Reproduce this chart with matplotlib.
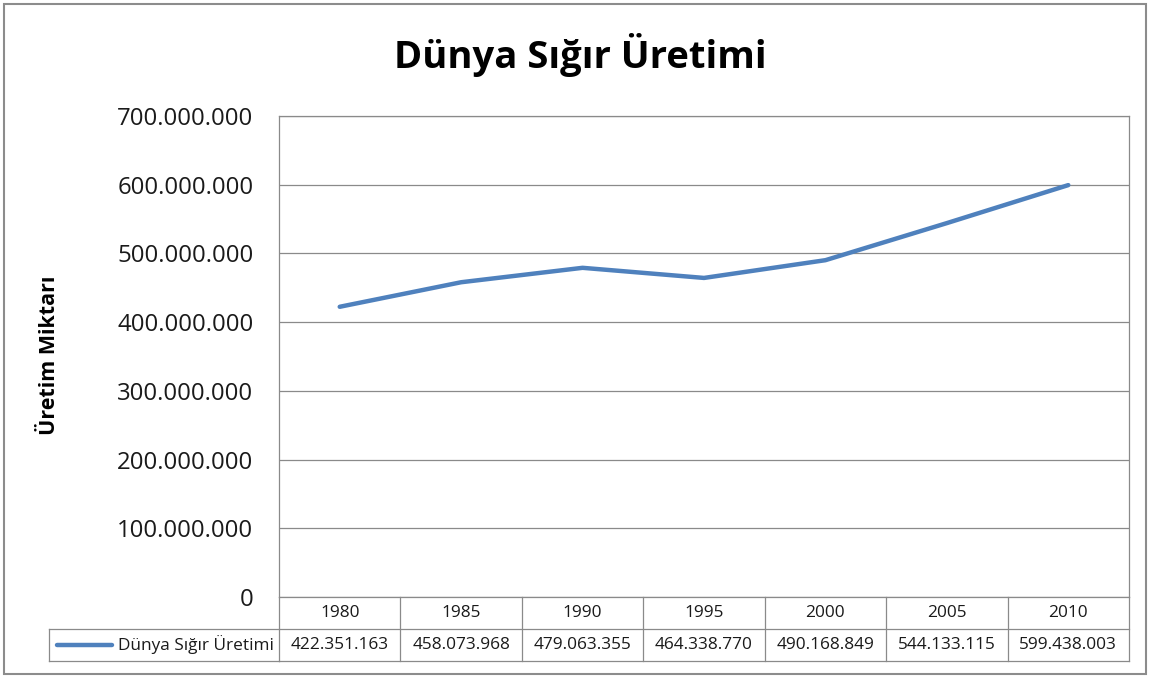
import matplotlib
matplotlib.use("Agg")
import matplotlib.pyplot as plt
from matplotlib.transforms import blended_transform_factory
from matplotlib.lines import Line2D
from matplotlib.patches import Rectangle

years = ["1980", "1985", "1990", "1995", "2000", "2005", "2010"]
values = [422351163, 458073968, 479063355, 464338770, 490168849, 544133115, 599438003]
value_labels = ["422.351.163", "458.073.968", "479.063.355", "464.338.770",
                "490.168.849", "544.133.115", "599.438.003"]
series_name = "Dünya Sığır Üretimi"
title = "Dünya Sığır Üretimi"
ylabel = "Üretim Miktarı"
yticks = [0, 100000000, 200000000, 300000000, 400000000, 500000000, 600000000, 700000000]

FONT = ["Open Sans", "DejaVu Sans"]
plt.rcParams['font.family'] = FONT

W, H = 1150, 678
fig = plt.figure(figsize=(W / 100, H / 100), dpi=100)
fig.patch.set_facecolor("white")

# outer border
fig.patches.append(Rectangle((4 / W, 4 / H), 1142 / W, 670 / H, transform=fig.transFigure,
                             fill=False, edgecolor="#8c8c8c", linewidth=1.5))

left, right, top, bottom = 279, 1129, 116, 597
ax = fig.add_axes([left / W, (H - bottom) / H, (right - left) / W, (bottom - top) / H])
n = len(years)
xs = [i + 0.5 for i in range(n)]
ax.set_xlim(0, n)
ax.set_ylim(0, 700000000)
ax.set_yticks(yticks)
ax.set_yticklabels([f"{v:,}".replace(",", ".") for v in yticks], fontsize=17.3, color="#1a1a1a")
ax.set_xticks([])
ax.tick_params(axis="y", length=0, pad=18.5)
ax.grid(axis="y", color="#8a8a8a", linewidth=0.9)
ax.set_axisbelow(True)
for s in ["top", "right", "left", "bottom"]:
    ax.spines[s].set_color("#8a8a8a")
    ax.spines[s].set_linewidth(0.9)

ax.plot(xs, values, color="#4F81BD", linewidth=3.2, solid_capstyle="round", zorder=3)

fig.text(580 / W, (H - 55) / H, title, fontsize=27.5, fontweight="bold", color="black",
         ha="center", va="center")
fig.text(50 / W, (H - 355) / H, ylabel, rotation=90, fontsize=15.5, fontweight="bold",
         ha="center", va="center")

# data table below
tr = blended_transform_factory(ax.transData, ax.transAxes)
ah = bottom - top
row_h = 32 / ah
line_kw = dict(color="#8a8a8a", linewidth=0.9, clip_on=False)
for i in range(n + 1):
    ax.add_line(Line2D([i, i], [0, -2 * row_h], transform=tr, **line_kw))
for k in (1, 2):
    ax.add_line(Line2D([0, n], [-k * row_h, -k * row_h], transform=tr, **line_kw))
for i, y in enumerate(years):
    ax.text(xs[i], -0.5 * row_h, y, transform=tr, ha="center", va="center", fontsize=12.4,
            color="#1a1a1a")
    ax.text(xs[i], -1.5 * row_h, value_labels[i], transform=tr, ha="center", va="center",
            fontsize=12.4, color="#1a1a1a")
# label cell
lx = (49 - left) / (right - left)
axT = ax.transAxes
ax.add_line(Line2D([lx, 0], [-row_h, -row_h], transform=axT, **line_kw))
ax.add_line(Line2D([lx, 0], [-2 * row_h, -2 * row_h], transform=axT, **line_kw))
ax.add_line(Line2D([lx, lx], [-row_h, -2 * row_h], transform=axT, **line_kw))
l1 = (57 - left) / (right - left)
l2 = (112 - left) / (right - left)
ax.add_line(Line2D([l1, l2], [-1.5 * row_h, -1.5 * row_h], transform=axT, color="#4F81BD",
                   linewidth=3.2, solid_capstyle="round", clip_on=False))
ax.text((274 - left) / (right - left), -1.5 * row_h, series_name, transform=axT,
        ha="right", va="center", fontsize=12.4, color="#1a1a1a")

fig.savefig("out.png", dpi=100)
